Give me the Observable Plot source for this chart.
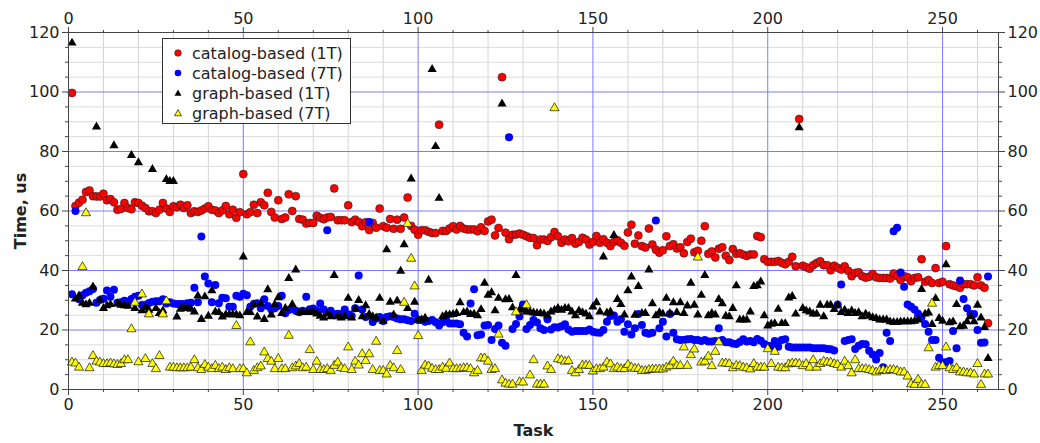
<!DOCTYPE html>
<html>
<head>
<meta charset="utf-8">
<script src="https://cdn.jsdelivr.net/npm/d3@7"></script>
<script src="https://cdn.jsdelivr.net/npm/@observablehq/plot@0.6"></script>
<style>
  html, body { margin: 0; padding: 0; background: #fff; }
  #wrap { position: relative; width: 1040px; height: 443px; font-family: "DejaVu Sans", sans-serif; }
  #legend { position: absolute; left: 162px; top: 38px; width: 189px; height: 86px; border: 1px solid #333; background: #fff; box-sizing: border-box; }
  #legend .row { position: absolute; left: 0; height: 20px; display: flex; align-items: center; font-size: 16px; color: #222; white-space: nowrap; }
  #legend svg { margin-left: 9px; margin-right: 8px; }
  g[aria-label="x-axis label"] text, g[aria-label="y-axis label"] text { font-weight: bold; }
</style>
</head>
<body>
<div id="wrap"></div>
<script>
// Task numbers run 1..263
const seriesNames = ["catalog-based (1T)", "catalog-based (7T)", "graph-based (1T)", "graph-based (7T)"];
const xTicks = [0, 50, 100, 150, 200, 250];
const yTicks = [0, 20, 40, 60, 80, 100, 120];

const catalog1T = [
 99.7,61.7,62.8,63.8,66.4,66.9,65,64.9,64.9,65.8,
 63.6,64,62.9,60.4,60.7,62.7,61,60.6,62.9,62.7,
 61.8,61,59.9,59.9,59.3,60.4,62.7,60.8,59.7,61.6,
 61.3,62.1,61,61.9,59.3,59.9,59.7,60.2,60.8,61.6,
 60.4,60.2,59.3,60.2,61.7,58.9,60.4,57.7,59.6,72.4,
 58.9,59.6,62.1,59.3,62.9,61.9,66.1,59.7,57.8,63.6,
 57.3,57.8,65.6,60,65,57.3,57.1,55.8,56,56,
 58.4,57.7,57.2,57.8,58,67.6,56.9,56.9,56.9,61.9,
 56.3,57.1,56.3,54.9,56.2,53.6,56,54.4,60.8,54.9,
 54.4,57.3,54,57.1,54,57.8,64.5,55,53.7,52,
 53.5,53.5,53,52.6,52.6,89,53.3,53.3,54.1,54.9,
 53.8,55,54.1,53.8,53.8,53.8,53.2,54.5,53.3,56.5,
 57.1,51.8,54.3,105,52.7,50.5,52,52.1,52.4,52,
 51.5,51,50.9,48.5,50.4,50.4,49.9,51.2,52.9,51.5,
 49.3,50.4,49.8,50.9,49,49.6,51,50.4,48.7,49.6,
 51.6,49.3,50.5,49.3,48.2,49.6,50.2,49.3,48.3,52.8,
 55.4,49,51.8,48.2,47.7,54.1,48.7,47,46,46.8,
 51.5,48.2,48.8,47.4,47.8,45.8,49.6,50.7,46.1,46.6,
 50,54.9,45.6,46.4,44.4,47.3,47.8,45,43.5,47.2,
 45.6,45.8,45.3,44.9,45.4,45.4,51.6,51.2,43.8,42.9,
 42.9,42.9,43.2,42.6,42.1,42.9,44.6,41.4,90.9,41.6,
 41.1,40.6,41.8,42.5,43.1,41.8,41.8,40.1,41.6,40.9,
 40.3,41.4,39.9,38.1,39.2,39.4,38.1,37.6,37.9,38.8,
 37.7,37.5,37.5,37.5,37.3,39,38.1,36.8,38.1,37.7,
 36.4,37.5,37.7,43.8,36.2,36.8,35.8,40.8,35.8,36.2,
 48.2,35.4,35,34.7,34.2,35.4,35.4,35.4,35,37.7,
 35,34.2,22.3
];

const catalog7T = [
 32,60,30.3,31.7,32.5,33,33.8,29.2,30.1,30.5,
 33.3,31.2,33.5,29.2,29.3,29.8,29.5,30.4,31.2,31.5,
 28.4,28.4,29.1,29.5,29.7,29.7,30.3,28.9,29.3,28.9,
 28.7,28.7,28.7,29,29.2,34.2,29.3,51.4,38,35.6,
 29.3,35.1,29,30.8,30.7,27.8,27.8,31.5,31.2,32.2,
 31.7,27.8,28.7,29,27.3,30.3,28.1,26.9,27.3,28.1,
 31.5,25.6,26.7,27.3,26.5,26,26.5,31.2,27,27.2,
 26.5,28.9,26.9,53.5,26.5,25.2,25.5,25.3,26.9,25.3,
 24.7,27.3,38.3,26.9,24.4,56.3,22.7,23.9,24.4,23,
 24.4,24.6,24.4,23.9,23.6,23.6,23.3,23,25.5,23.4,
 23.4,22.8,23,23.4,22.6,21.5,22.6,23.4,22.2,22.2,
 22.2,21.9,19.1,17.8,28.9,33.7,18.2,18.5,21.5,21.7,
 16.6,20.3,21.5,15.7,14.7,84.8,20.3,22,24.5,28.6,
 20.3,21.7,23.4,22.5,20.6,20,23.6,20.2,20.9,20.8,
 21.3,21.9,20.2,19.4,19.7,19.7,19.7,19.7,20.2,19.4,
 19.2,19.1,20,22.8,24.7,24.9,22.8,23.6,19.4,21.9,
 18.5,20.6,25.4,21.7,19.1,18.7,19.1,56.8,20.6,22.8,
 17.8,25.4,19.1,16.9,16.6,16.6,16.9,17,16.6,16.6,
 16.3,16.6,16.1,16.1,16.3,20.6,16.6,15.9,15.9,15.5,
 15.3,16,16.9,16.1,16.3,15.9,17,16.4,15.3,14.7,
 14.6,16.3,14.4,16.6,16.9,14.4,14.1,14.1,14.1,14.1,
 14.1,14.1,13.9,13.9,13.9,13.9,13.6,13.5,13.1,28.5,
 35.3,16.3,16.6,16.9,13.6,14.7,15.3,15.2,13,11.8,
 10.1,12.3,7.5,19.1,16.3,53.2,54.4,39.3,34.5,28.6,
 27.8,26.9,25.5,24.4,22,19.4,16.6,16.6,10.7,9.2,
 9.2,9.6,19.7,13.9,36.6,30.4,27.3,25.4,25.4,20,
 15.7,15.8,38
];

const graph1T = [
 116.5,30.5,31.5,29,28.5,29,34.5,88.3,30.1,27.3,
 28.2,28.6,82,28.9,28.4,28.2,28,78.7,27.3,76.3,
 26.5,27.5,26.7,74,27.3,25.6,26.5,70.6,70,70,
 24.4,27,27.5,27.3,27,26.1,31.5,23.6,31.2,24.7,
 33.2,26.1,25.9,24.4,25.2,25.2,25.2,25.2,24.8,44.6,
 25.9,25.9,28.6,24.4,28.9,23.6,33.6,25.1,28.6,30.9,
 25.6,27.3,37.4,28.6,40.2,25.9,25.9,25.9,25.9,26.1,
 25.4,24.7,24.1,25.4,24.5,38.4,24.5,24.1,24.5,30.7,
 24.1,27,30,24.5,28.2,25.3,24.5,24.1,30.7,23,
 47,29.4,25.1,29.8,39.8,48.7,27.3,70.8,29.4,23.4,
 23.4,24,36.8,107.6,81.7,64.3,24.5,25.1,25.1,25.3,
 25.6,29.2,25.9,26.1,25.3,25.4,24.8,26.9,35.8,31.7,
 32.6,26.5,30.7,96,30.2,30.3,27.5,38.4,26.7,26.9,
 26.1,26.1,25.8,25.6,25.6,25.4,24.8,26.1,26.7,27.3,
 26.7,27.3,27.3,26.1,24.8,26.5,25.9,25.4,24.5,27.8,
 29.2,26.1,44.6,25.8,26.1,51.8,30.3,28.6,25.1,33.2,
 37.9,25,34.7,25.6,25.6,40.2,28.9,24.8,25.9,25.4,
 30.7,25.6,29.2,25.9,29.2,25.6,28.1,35.8,28.4,25.1,
 31.7,38.4,24.8,25.6,25.1,30.3,28.9,24.7,24.5,27.3,
 34.9,23.4,23.4,23.4,26.1,34.7,34.9,36.2,24.8,21.4,
 22,22.2,27,22.2,22.2,30.8,31.3,25.4,88,27.3,
 26.5,26.1,25.4,25.4,28.4,24.5,28.4,28.4,26.9,28.4,
 25.9,26.7,25.6,26.5,25.6,25.9,24.5,25.4,24.7,24.2,
 23.9,23.4,23.4,23.4,22.8,22.6,22.6,22.8,22.8,22.8,
 22.8,23,23.4,33.7,25.4,25.8,21.9,30.6,23.9,23,
 42,22.5,22.8,28.6,21.1,21.3,22.8,24.5,22.8,28.4,
 24.1,20.9,10.5
];

const graph7T = [
 9.1,8.8,7.4,41.2,59.3,7.2,11.3,9.4,9.1,8.6,
 8.6,8.8,8.5,8.3,8.6,9.9,9.9,20.3,29.2,9.2,
 32,10.3,25.3,8.6,6.9,11.3,25.3,29.7,7.4,7.4,
 7.2,7.2,7.2,7.2,7.4,9.9,7.2,6.6,8.3,7.4,
 6.9,8,6.9,7.4,6.6,7.2,6.9,21.4,6.9,6.9,
 5.5,15.9,6.3,7.2,7.8,12.5,10.3,9.4,6.9,10.3,
 6.9,6.9,18.1,7.2,7.8,8.6,7.2,7.4,13.3,6.6,
 9.4,6.6,6.6,6.9,6.3,8,9.1,7.2,6.9,14.2,
 6.6,9.4,8.1,11.9,9.6,11.9,6.6,16.1,6.3,6.3,
 5.1,8,7.2,13,6.6,29.2,55.7,44,34.7,18,
 6.3,8.1,7.8,7,6.6,6.6,7.4,7,8.8,6.9,
 6.9,6.9,7.2,7.2,6.9,5.5,6.3,10.5,10.5,9.4,
 6.6,6.9,18.5,3.1,2,1.7,1.7,26,2.5,2.4,
 28.4,4.8,9.9,1.7,1.7,1.7,7.8,6.6,94.6,10.2,
 9.9,9.4,9.6,6.3,5.5,6.6,8.1,8.1,8,6.1,
 6.9,6.9,7.4,9.1,8.5,6.9,7.4,6.9,6.9,8.3,
 7.4,7,7,6.3,6.3,6.6,6.8,6.8,6.8,6.8,
 7.4,7.9,9.4,7.9,8,14.2,8,11.6,13.5,44.4,
 9.1,9.4,11.1,7.9,12.7,15.9,8.8,8.8,8.6,7.2,
 8,7.9,7.4,7.2,6.8,8.6,7.4,7.4,7.4,13.6,
 8.6,12.7,7.4,7.2,7.2,8.5,8.8,8.8,8.6,7.9,
 8.6,7.4,9.9,7.4,8.6,9.4,9.1,9.1,8.6,8.3,
 7.4,9.4,7.9,5.5,9.9,6.9,6.9,6.9,6.6,6.3,
 5.8,6.3,6.6,6.3,6.6,6.6,6.3,5.8,5.8,4.4,
 1.8,1.6,3.3,1.6,1.6,13.9,28.9,7.4,7.9,7.9,
 14.2,7.2,6.6,7.2,5.8,5.8,5.5,5.5,5.1,8.6,
 1.6,5.1,5.1
];

const toRows = (vals) => vals.map((v, i) => ({task: i + 1, time: v}));
const d1 = toRows(catalog1T), d2 = toRows(catalog7T), d3r = toRows(graph1T), d4 = toRows(graph7T);

const minorX = d3.range(10, 266, 10).filter(v => v % 50 !== 0);
const minorY = d3.range(5, 120, 5).filter(v => v % 20 !== 0);
const majorXGrid = [50, 100, 150, 200, 250];
const majorYGrid = [20, 40, 60, 80, 100];
const blank = () => "";

const chart = Plot.plot({
  width: 1040,
  height: 443,
  marginLeft: 68,
  marginRight: 42,
  marginTop: 32,
  marginBottom: 54,
  style: { fontFamily: "DejaVu Sans, sans-serif", fontSize: "16px", color: "#222", background: "#fff", overflow: "visible" },
  x: { domain: [0, 266] },
  y: { domain: [0, 120] },
  marks: [
    Plot.gridX(minorX, { stroke: "#d4d4d4", strokeOpacity: 1, strokeWidth: 1 }),
    Plot.gridY(minorY, { stroke: "#dcdcdc", strokeOpacity: 1, strokeWidth: 1 }),
    Plot.gridX(majorXGrid, { stroke: "#7a7aff", strokeOpacity: 1, strokeWidth: 1 }),
    Plot.gridY(majorYGrid, { stroke: "#7a7aff", strokeOpacity: 1, strokeWidth: 1 }),
    Plot.dot(d1, { x: "task", y: "time", r: 4.0, fill: "#ff0000", stroke: "#222", strokeWidth: 0.6 }),
    Plot.dot(d2, { x: "task", y: "time", r: 4.0, fill: "#0000ff", stroke: "none" }),
    Plot.dot(d3r, { x: "task", y: "time", r: 3.4, symbol: "triangle", fill: "#000", stroke: "none" }),
    Plot.dot(d4, { x: "task", y: "time", r: 3.4, symbol: "triangle", fill: "#ffff00", stroke: "#111", strokeWidth: 0.7 }),
    Plot.axisX({ anchor: "bottom", ticks: xTicks, tickSize: 6, tickPadding: 3, stroke: "#444", label: "Task", labelAnchor: "center", labelOffset: 46, labelArrow: "none" }),
    Plot.axisX({ anchor: "bottom", ticks: minorX, tickSize: 3, tickFormat: blank, stroke: "#444", label: null }),
    Plot.axisX({ anchor: "top", ticks: xTicks, tickSize: 6, tickPadding: 3, stroke: "#444", label: null }),
    Plot.axisX({ anchor: "top", ticks: minorX, tickSize: 3, tickFormat: blank, stroke: "#444", label: null }),
    Plot.axisY({ anchor: "left", ticks: yTicks, tickSize: 6, tickPadding: 3, stroke: "#444", label: "Time, us", labelAnchor: "center", labelOffset: 54, labelArrow: "none" }),
    Plot.axisY({ anchor: "left", ticks: minorY, tickSize: 3, tickFormat: blank, stroke: "#444", label: null }),
    Plot.axisY({ anchor: "right", ticks: yTicks, tickSize: 6, tickPadding: 3, stroke: "#444", label: null }),
    Plot.axisY({ anchor: "right", ticks: minorY, tickSize: 3, tickFormat: blank, stroke: "#444", label: null }),
    Plot.frame({ stroke: "#444", strokeWidth: 1 })
  ]
});

const wrap = document.getElementById("wrap");
wrap.appendChild(chart);

// Legend (HTML overlay)
const legendSymbols = [
  { name: seriesNames[0], shape: "circle", fill: "#ff0000", stroke: "#222" },
  { name: seriesNames[1], shape: "circle", fill: "#0000ff", stroke: "none" },
  { name: seriesNames[2], shape: "triangle", fill: "#000000", stroke: "none" },
  { name: seriesNames[3], shape: "triangle", fill: "#ffff00", stroke: "#111" }
];
const legend = document.createElement("div");
legend.id = "legend";
legendSymbols.forEach((s, i) => {
  const row = document.createElement("div");
  row.className = "row";
  row.style.top = (4 + i * 20) + "px";
  const shape = s.shape === "circle"
    ? `<circle cx="6" cy="6" r="3.3" fill="${s.fill}" stroke="${s.stroke}" stroke-width="0.6"/>`
    : `<path d="M6,2.6 L9.5,8.8 L2.5,8.8 Z" fill="${s.fill}" stroke="${s.stroke}" stroke-width="0.7"/>`;
  row.innerHTML = `<svg width="12" height="12">${shape}</svg><span>${s.name}</span>`;
  legend.appendChild(row);
});
wrap.appendChild(legend);
</script>
</body>
</html>
